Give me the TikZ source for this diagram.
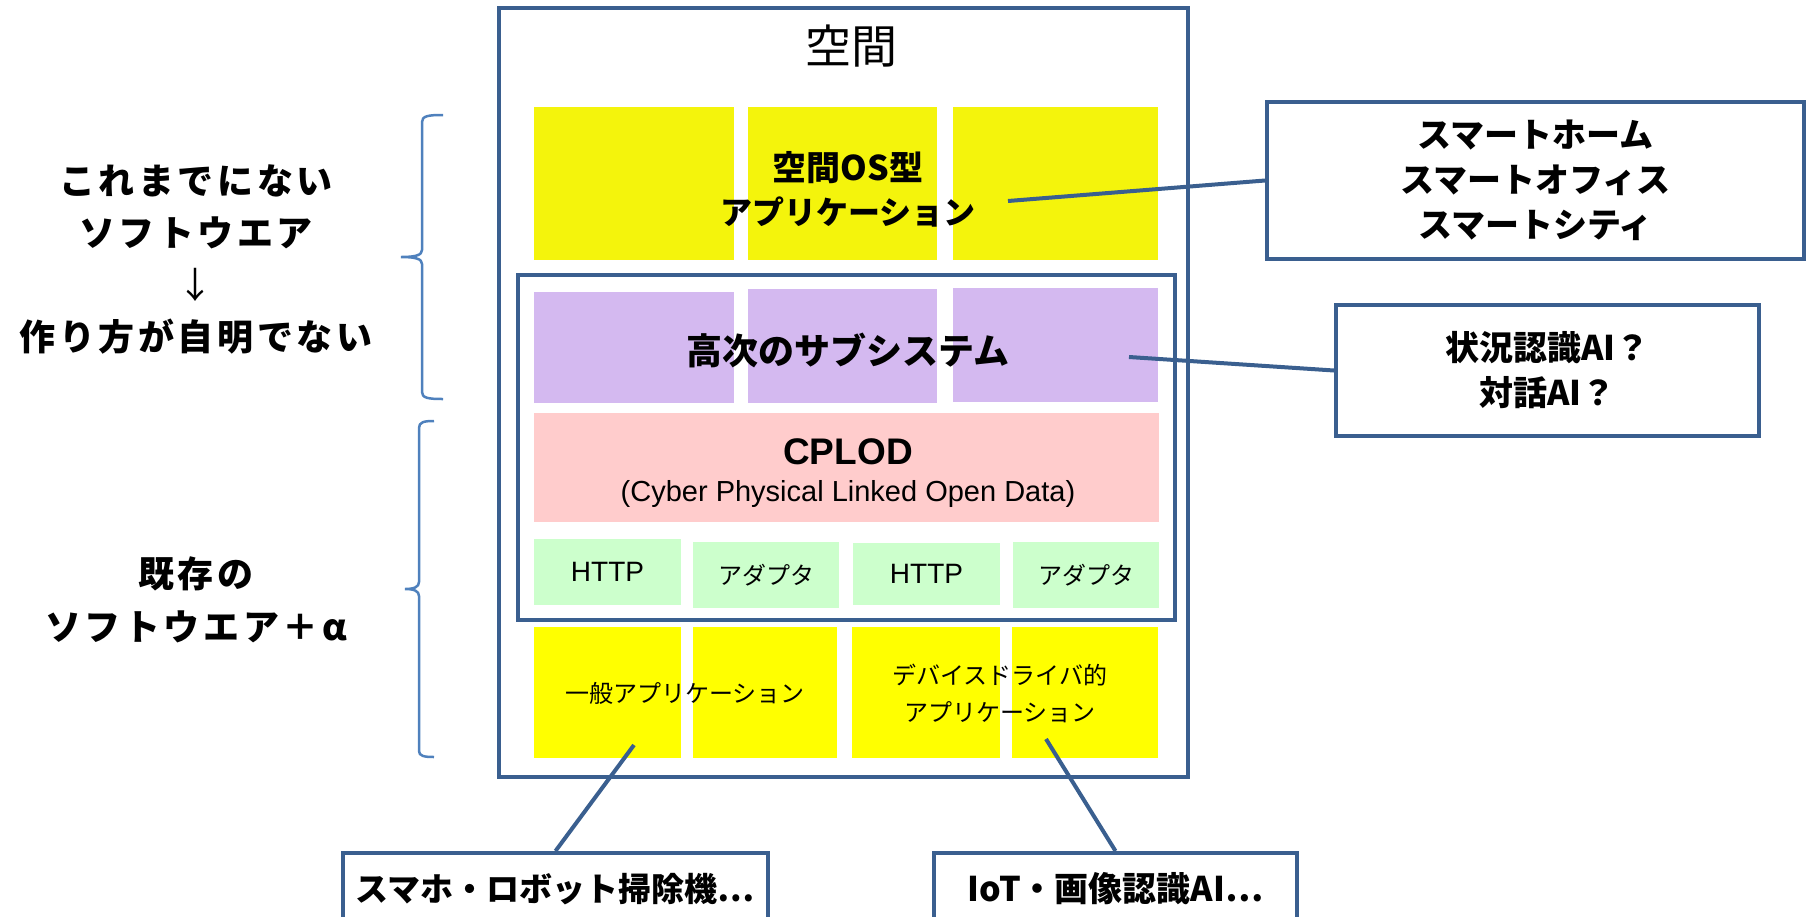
\documentclass[tikz,border=0pt]{standalone}
\usepackage{fontspec}
\setmainfont{Noto Sans CJK JP}
\newfontfamily\arialf{Liberation Sans}
\newfontfamily\widejp{Noto Sans CJK JP}[LetterSpace=10]

\definecolor{frameblue}{HTML}{3A5F8F}
\definecolor{bracebl}{HTML}{4F81BD}
\definecolor{osyel}{HTML}{F4F40C}
\definecolor{appyel}{HTML}{FFFF00}
\definecolor{subpur}{HTML}{D4B9F0}
\definecolor{lodpink}{HTML}{FFCCCC}
\definecolor{adpgreen}{HTML}{CCFFCC}

\begin{document}
\begin{tikzpicture}[x=1pt, y=-1pt,
	frame/.style={draw=frameblue, line width=4pt, inner sep=0pt},
	cell/.style={inner sep=0pt, draw=none},
	note/.style={
		draw=frameblue, line width=4pt, fill=white, align=center, inner sep=0pt,
		font=\fontsize{34}{45}\selectfont\bfseries
	},
	small/.style={font=\fontsize{24}{37}\selectfont, align=center},
	lead/.style={draw=frameblue, line width=4pt},
	brc/.style={draw=bracebl, line width=2.5pt},
	]
	\useasboundingbox (0,0) rectangle (1810,916);
	
	% Space frame and its title
	\node[frame, minimum width=689, minimum height=769] (space) at (843.5,392.5) {};
	\node[font=\fontsize{46}{50}\selectfont] (title) at (851,46) {空間};
	
	% Space-OS applications (top row)
	\node[cell, fill=osyel, minimum width=200, minimum height=153] (os1) at (634,183.5) {};
	\node[cell, fill=osyel, minimum width=189, minimum height=153] (os2) at (842.5,183.5) {};
	\node[cell, fill=osyel, minimum width=205, minimum height=153] (os3) at (1055.5,183.5) {};
	\node[align=center, font=\fontsize{32}{44}\selectfont\bfseries] (oslbl) at (848,189)
	{{\fontsize{34}{44}\selectfont 空間OS型}\\アプリケーション};
	
	% Middleware frame
	\node[frame, minimum width=657, minimum height=345] (mid) at (846.5,447.5) {};
	
	% Higher subsystems
	\node[cell, fill=subpur, minimum width=200, minimum height=111] (sub1) at (634,347.5) {};
	\node[cell, fill=subpur, minimum width=189, minimum height=114] (sub2) at (842.5,346) {};
	\node[cell, fill=subpur, minimum width=205, minimum height=114] (sub3) at (1055.5,345) {};
	\node[font=\fontsize{36}{40}\selectfont\bfseries] (sublbl) at (848,350) {高次のサブシステム};
	
	% CPLOD
	\node[cell, fill=lodpink, minimum width=625, minimum height=109] (lod) at (846.5,467.5) {};
	\node[font=\arialf\fontsize{37}{40}\selectfont\bfseries] (lodname) at (848,452) {CPLOD};
	\node[font=\arialf\fontsize{29}{32}\selectfont] (lodfull) at (848,494)
	{(Cyber Physical Linked Open Data)};
	
	% Adapters
	\node[cell, fill=adpgreen, minimum width=147, minimum height=66] (http1) at (607.5,572)
	{\arialf\fontsize{28}{30}\selectfont HTTP};
	\node[cell, fill=adpgreen, minimum width=146, minimum height=66] (adp1) at (766,575)
	{\fontsize{24}{30}\selectfont アダプタ};
	\node[cell, fill=adpgreen, minimum width=147, minimum height=62] (http2) at (926.5,574)
	{\arialf\fontsize{28}{30}\selectfont HTTP};
	\node[cell, fill=adpgreen, minimum width=146, minimum height=66] (adp2) at (1086,575)
	{\fontsize{24}{30}\selectfont アダプタ};
	
	% Existing applications (bottom row)
	\node[cell, fill=appyel, minimum width=147, minimum height=131] (app1) at (607.5,692.5) {};
	\node[cell, fill=appyel, minimum width=144, minimum height=131] (app2) at (765,692.5) {};
	\node[cell, fill=appyel, minimum width=148, minimum height=131] (app3) at (926,692.5) {};
	\node[cell, fill=appyel, minimum width=146, minimum height=131] (app4) at (1085,692.5) {};
	\node[small] (genlbl) at (685,693) {一般アプリケーション};
	\node[small] (devlbl) at (1000,693) {デバイスドライバ的\\アプリケーション};
	
	% Left side captions
	\node[align=center, font=\widejp\fontsize{36}{52}\selectfont\bfseries] (newsw) at (196,259.5)
	{これまでにない\\ソフトウエア\\{\mdseries ↓}\\作り方が自明でない};
	\node[align=center, font=\widejp\fontsize{36}{53}\selectfont\bfseries] (oldsw) at (196,600)
	{既存の\\ソフトウエア＋α};
	
	% Braces
	\draw[brc] (443,115) .. controls (428,115) and (422,116) .. (422,122) -- (422,250)
	.. controls (422,255) and (416,257) .. (401,257)
	.. controls (416,257) and (422,259) .. (422,264) -- (422,392)
	.. controls (422,398) and (428,399) .. (443,399);
	\draw[brc] (434,421) .. controls (424,421) and (419,422) .. (419,428) -- (419,582)
	.. controls (419,587) and (414,589) .. (405,589)
	.. controls (414,589) and (419,591) .. (419,596) -- (419,751)
	.. controls (419,756) and (424,757) .. (434,757);
	
	% Callouts
	\node[note, minimum width=537, minimum height=157] (smart) at (1535.5,180.5)
	{スマートホーム\\スマートオフィス\\スマートシティ};
	\node[note, minimum width=423, minimum height=131] (ai) at (1547.5,370.5)
	{状況認識AI？\\対話AI？};
	\node[note, font=\fontsize{33}{40}\selectfont\bfseries, minimum width=425, minimum height=72]
	(robot) at (555.5,889) {スマホ・ロボット掃除機…};
	\node[note, font=\fontsize{34}{40}\selectfont\bfseries, minimum width=363, minimum height=72]
	(iot) at (1115.5,889) {IoT・画像認識AI…};
	
	% Leader lines
	\coordinate (osp)  at (1008,201);
	\coordinate (subp) at (1129,357);
	\coordinate (genp) at (634,745);
	\coordinate (devp) at (1046,739);
	\draw[lead] (osp)  -- (smart.west);
	\draw[lead] (subp) -- (ai.west);
	\draw[lead] (genp) -- (robot.north);
	\draw[lead] (devp) -- (iot.north);
	
\end{tikzpicture}
\end{document}
